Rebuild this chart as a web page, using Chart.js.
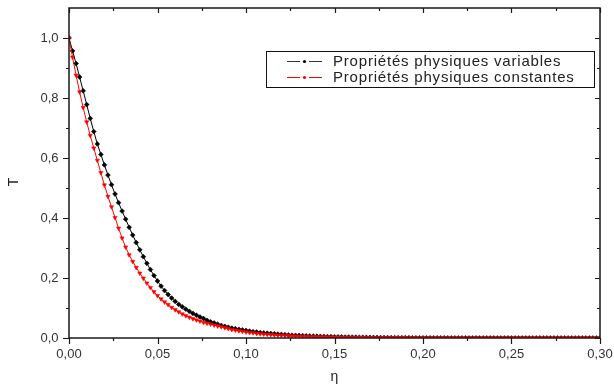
<!DOCTYPE html>
<html>
<head>
<meta charset="utf-8">
<script src="https://cdn.jsdelivr.net/npm/chart.js@4"></script>
<style>
  html, body { margin: 0; padding: 0; background: #fff; }
  #wrap { width: 614px; height: 388px; }
</style>
</head>
<body>
<div id="wrap"><canvas id="tChart" width="614" height="388"></canvas></div>
<script>
// eta (x) values
const eta = [
  0.000,0.002,0.004,0.006,0.008,0.010,0.012,0.014,0.016,0.018,
  0.020,0.022,0.024,0.026,0.028,0.030,0.032,0.034,0.036,0.038,
  0.040,0.042,0.044,0.046,0.048,0.050,0.052,0.054,0.056,0.058,
  0.060,0.062,0.064,0.066,0.068,0.070,0.072,0.074,0.076,0.078,
  0.080,0.082,0.084,0.086,0.088,0.090,0.092,0.094,0.096,0.098,
  0.100,0.102,0.104,0.106,0.108,0.110,0.112,0.114,0.116,0.118,
  0.120,0.122,0.124,0.126,0.128,0.130,0.132,0.134,0.136,0.138,
  0.140,0.142,0.144,0.146,0.148,0.150,0.152,0.154,0.156,0.158,
  0.160,0.162,0.164,0.166,0.168,0.170,0.172,0.174,0.176,0.178,
  0.180,0.182,0.184,0.186,0.188,0.190,0.192,0.194,0.196,0.198,
  0.200,0.202,0.204,0.206,0.208,0.210,0.212,0.214,0.216,0.218,
  0.220,0.222,0.224,0.226,0.228,0.230,0.232,0.234,0.236,0.238,
  0.240,0.242,0.244,0.246,0.248,0.250,0.252,0.254,0.256,0.258,
  0.260,0.262,0.264,0.266,0.268,0.270,0.272,0.274,0.276,0.278,
  0.280,0.282,0.284,0.286,0.288,0.290,0.292,0.294,0.296,0.298,
  0.300
];

// T, propriétés physiques variables (black)
const tVariables = [
  1.000,0.957,0.915,0.870,0.824,0.778,0.732,0.688,0.647,0.612,
  0.577,0.543,0.511,0.480,0.451,0.423,0.396,0.369,0.343,0.318,
  0.294,0.271,0.249,0.228,0.208,0.190,0.173,0.158,0.145,0.133,
  0.122,0.112,0.104,0.096,0.089,0.082,0.076,0.070,0.065,0.059,
  0.054,0.050,0.046,0.042,0.039,0.036,0.033,0.031,0.029,0.027,
  0.025,0.023,0.021,0.020,0.018,0.017,0.016,0.015,0.014,0.013,
  0.012,0.011,0.010,0.0095,0.009,0.0085,0.0079,0.0073,0.0068,0.0063,
  0.0058,0.0054,0.0050,0.0046,0.0043,0.0040,0.0037,0.0034,0.0032,0.0030,
  0.0028,0.0026,0.0024,0.0022,0.0020,0.0019,0.0018,0.0016,0.0015,0.0014,
  0.0013,0.0012,0.0011,0.0010,0.0009,0.0009,0.0008,0.0007,0.0007,0.0006,
  0.0006,0.0005,0.0005,0.0004,0.0004,0.0004,0.0003,0.0003,0.0003,0.0002,
  0.0002,0.0002,0.0002,0.0001,0.0001,0.0001,0.0001,0.0001,0.0001,0.0001,
  0.0001,0,0,0,0,0,0,0,0,0,
  0,0,0,0,0,0,0,0,0,0,
  0,0,0,0,0,0,0,0,0,0,
  0
];

// T, propriétés physiques constantes (red)
const tConstantes = [
  1.000,0.936,0.876,0.820,0.768,0.720,0.675,0.633,0.592,0.551,
  0.510,0.472,0.437,0.401,0.366,0.333,0.303,0.277,0.255,0.235,
  0.216,0.199,0.183,0.168,0.154,0.141,0.130,0.120,0.111,0.102,
  0.094,0.087,0.080,0.074,0.069,0.064,0.060,0.056,0.052,0.049,
  0.046,0.043,0.040,0.037,0.034,0.031,0.028,0.026,0.024,0.022,
  0.020,0.018,0.017,0.015,0.014,0.013,0.012,0.011,0.010,0.0093,
  0.0086,0.0080,0.0074,0.0068,0.0063,0.0058,0.0054,0.0050,0.0046,0.0043,
  0.0040,0.0037,0.0034,0.0032,0.0030,0.0028,0.0026,0.0024,0.0022,0.0020,
  0.0019,0.0017,0.0016,0.0015,0.0014,0.0013,0.0012,0.0011,0.0010,0.0009,
  0.0009,0.0008,0.0007,0.0007,0.0006,0.0006,0.0005,0.0005,0.0004,0.0004,
  0.0004,0.0003,0.0003,0.0003,0.0002,0.0002,0.0002,0.0002,0.0001,0.0001,
  0.0001,0.0001,0.0001,0.0001,0.0001,0,0,0,0,0,
  0,0,0,0,0,0,0,0,0,0,
  0,0,0,0,0,0,0,0,0,0,
  0,0,0,0,0,0,0,0,0,0,
  0
];

const seriesLabels = ['Propriétés physiques variables', 'Propriétés physiques constantes'];
const xTitle = 'η';
const yTitle = 'T';

const fontFamily = '"Liberation Sans", Arial, sans-serif';
const fmt = (v, d) => v.toFixed(d).replace('.', ',');

// frame, Origin-like ticks, boxed legend and y title
const framePlugin = {
  id: 'frame',
  afterDraw(chart) {
    const { ctx, chartArea: a, scales: { x, y } } = chart;
    ctx.save();
    ctx.strokeStyle = '#1a1a1a';
    ctx.lineWidth = 1.5;
    ctx.strokeRect(a.left, a.top, a.right - a.left, a.bottom - a.top);

    ctx.lineWidth = 1.2;
    ctx.beginPath();
    const xt = x.ticks.map(t => t.value);
    xt.forEach((v, i) => {
      const px = Math.round(x.getPixelForValue(v)) + 0.5;
      ctx.moveTo(px, a.bottom); ctx.lineTo(px, a.bottom + 6);
      ctx.moveTo(px, a.top); ctx.lineTo(px, a.top + 5);
      if (i < xt.length - 1) {
        const m = Math.round(x.getPixelForValue((v + xt[i + 1]) / 2)) + 0.5;
        ctx.moveTo(m, a.bottom); ctx.lineTo(m, a.bottom + 3);
        ctx.moveTo(m, a.top); ctx.lineTo(m, a.top + 3);
      }
    });
    const yt = y.ticks.map(t => t.value);
    yt.forEach((v, i) => {
      const py = Math.round(y.getPixelForValue(v)) + 0.5;
      ctx.moveTo(a.left - 6, py); ctx.lineTo(a.left, py);
      ctx.moveTo(a.right - 5, py); ctx.lineTo(a.right, py);
      if (i < yt.length - 1) {
        const m = Math.round(y.getPixelForValue((v + yt[i + 1]) / 2)) + 0.5;
        ctx.moveTo(a.left - 3, m); ctx.lineTo(a.left, m);
        ctx.moveTo(a.right - 3, m); ctx.lineTo(a.right, m);
      }
    });
    ctx.stroke();

    // legend box
    const lx = a.right - 334, ly = a.top + 43, lw = 328, lh = 36;
    ctx.fillStyle = '#fff';
    ctx.fillRect(lx, ly, lw, lh);
    ctx.lineWidth = 1;
    ctx.strokeStyle = '#111';
    ctx.strokeRect(lx + 0.5, ly + 0.5, lw, lh);
    ctx.font = '15px ' + fontFamily;
    if ('letterSpacing' in ctx) ctx.letterSpacing = '0.8px';
    ctx.textBaseline = 'middle';
    ctx.textAlign = 'left';
    chart.data.datasets.forEach((ds, i) => {
      const cy = ly + 10 + i * 16;
      const c = ds.borderColor;
      ctx.strokeStyle = c === '#000000' ? '#333' : c;
      ctx.lineWidth = 1;
      ctx.beginPath();
      ctx.moveTo(lx + 21, cy + 0.5); ctx.lineTo(lx + 34, cy + 0.5);
      ctx.moveTo(lx + 43, cy + 0.5); ctx.lineTo(lx + 56, cy + 0.5);
      ctx.stroke();
      ctx.fillStyle = c;
      ctx.beginPath();
      ctx.arc(lx + 38.5, cy + 0.5, 1.6, 0, Math.PI * 2);
      ctx.fill();
      ctx.fillStyle = '#222';
      ctx.fillText(ds.label, lx + 67, cy + 1);
    });

    // y axis title
    if ('letterSpacing' in ctx) ctx.letterSpacing = '0px';
    ctx.translate(14, 182);
    ctx.rotate(-Math.PI / 2);
    ctx.textAlign = 'center';
    ctx.font = '14px ' + fontFamily;
    ctx.fillStyle = '#222';
    ctx.fillText(yTitle, 0, 0);
    ctx.restore();
  }
};

const ctx = document.getElementById('tChart').getContext('2d');
const chart = new Chart(ctx, {
  type: 'line',
  data: {
    datasets: [
      {
        label: seriesLabels[0],
        data: tVariables.map((v, i) => ({ x: eta[i], y: v })),
        borderColor: '#000000',
        backgroundColor: '#000000',
        borderWidth: 1,
        pointStyle: 'rectRot',
        pointRadius: 2.4,
        pointBorderWidth: 0.6,
        pointHoverRadius: 0,
        tension: 0,
        order: 1
      },
      {
        label: seriesLabels[1],
        data: tConstantes.map((v, i) => ({ x: eta[i], y: v })),
        borderColor: '#ff0000',
        backgroundColor: '#ff0000',
        borderWidth: 1,
        pointStyle: 'triangle',
        rotation: 180,
        pointRadius: 2.4,
        pointBorderWidth: 0.6,
        pointHoverRadius: 0,
        tension: 0,
        order: 0
      }
    ]
  },
  options: {
    responsive: false,
    animation: false,
    layout: { padding: { left: 0, top: 8, right: 14, bottom: 0 } },
    plugins: {
      legend: { display: false },
      tooltip: { enabled: false }
    },
    scales: {
      x: {
        type: 'linear',
        min: 0,
        max: 0.3,
        grid: { display: false, drawTicks: false },
        border: { display: false },
        ticks: {
          stepSize: 0.05,
          padding: 9,
          color: '#333',
          font: { family: fontFamily, size: 13 },
          maxRotation: 0,
          callback: v => fmt(v, 2)
        },
        title: {
          display: true,
          text: xTitle,
          color: '#222',
          font: { family: fontFamily, size: 14 },
          padding: { top: 0, bottom: 2 }
        },
        afterFit: s => { s.height = 50; s.paddingLeft = 0; s.paddingRight = 0; }
      },
      y: {
        type: 'linear',
        min: 0,
        max: 1.1,
        grid: { display: false, drawTicks: false },
        border: { display: false },
        ticks: {
          stepSize: 0.2,
          includeBounds: false,
          padding: 10.5,
          color: '#333',
          font: { family: fontFamily, size: 13 },
          callback: v => fmt(v, 1)
        },
        afterFit: s => { s.width = 69; s.paddingTop = 0; s.paddingBottom = 0; }
      }
    }
  },
  plugins: [framePlugin]
});
</script>
</body>
</html>
